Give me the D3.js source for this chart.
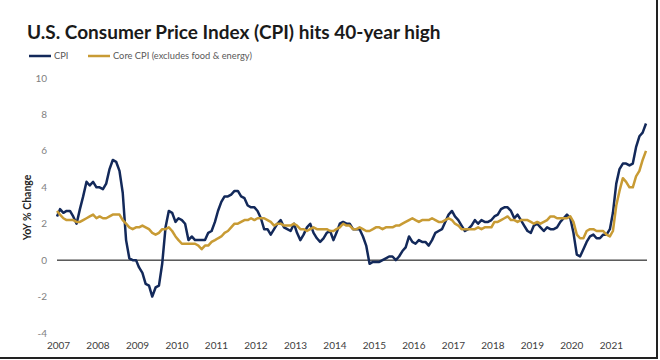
<!DOCTYPE html>
<html>
<head>
<meta charset="utf-8">
<script src="https://cdn.jsdelivr.net/npm/d3@7"></script>
<style>
  body { margin: 0; background: #fff; }
  svg { display: block; font-family: Lato, "Liberation Sans", sans-serif; }
</style>
</head>
<body>
<div id="chart"></div>
<script>
// monthly YoY % change, Feb 2007 .. Jan 2022
const startMonth = new Date(2007, 1, 1);
const cpi = [
  2.4, 2.8, 2.6, 2.7, 2.7, 2.4, 2.0, 2.8, 3.5, 4.3, 4.1,
  4.3, 4.0, 4.0, 3.9, 4.2, 5.0, 5.5, 5.4, 4.9, 3.7, 1.1, 0.1,
  0.0, 0.0, -0.4, -0.7, -1.3, -1.4, -2.0, -1.5, -1.4, -0.2, 1.8, 2.7,
  2.6, 2.1, 2.3, 2.2, 2.0, 1.1, 1.3, 1.1, 1.1, 1.1, 1.1, 1.5,
  1.6, 2.1, 2.7, 3.2, 3.5, 3.5, 3.6, 3.8, 3.8, 3.5, 3.4, 3.0,
  2.9, 2.9, 2.7, 2.3, 1.7, 1.7, 1.4, 1.7, 2.0, 2.2, 1.8, 1.7,
  1.6, 2.0, 1.5, 1.1, 1.4, 1.8, 2.0, 1.5, 1.2, 1.0, 1.2, 1.5,
  1.6, 1.1, 1.5, 2.0, 2.1, 2.0, 2.0, 1.7, 1.7, 1.7, 1.3, 0.8,
  -0.2, -0.1, -0.1, -0.1, 0.0, 0.1, 0.2, 0.2, 0.0, 0.2, 0.5, 0.7,
  1.3, 1.0, 0.9, 1.1, 1.0, 1.0, 0.8, 1.1, 1.5, 1.6, 1.7, 2.1,
  2.5, 2.7, 2.4, 2.2, 1.9, 1.6, 1.7, 1.9, 2.2, 2.0, 2.2, 2.1,
  2.1, 2.2, 2.4, 2.5, 2.8, 2.9, 2.9, 2.7, 2.3, 2.5, 2.2, 1.9,
  1.6, 1.5, 1.9, 2.0, 1.8, 1.6, 1.8, 1.7, 1.7, 1.8, 2.1, 2.3,
  2.5, 2.3, 1.5, 0.3, 0.2, 0.6, 1.0, 1.3, 1.4, 1.2, 1.2, 1.4,
  1.4, 1.7, 2.6, 4.2, 5.0, 5.3, 5.3, 5.2, 5.3, 6.2, 6.8, 7.0,
  7.5
];
const coreCpi = [
  2.7, 2.5, 2.3, 2.2, 2.2, 2.2, 2.1, 2.1, 2.2, 2.3, 2.4,
  2.5, 2.3, 2.4, 2.3, 2.3, 2.4, 2.5, 2.5, 2.5, 2.2, 2.0, 1.8,
  1.7, 1.8, 1.8, 1.9, 1.8, 1.7, 1.5, 1.4, 1.5, 1.7, 1.7, 1.8,
  1.6, 1.3, 1.1, 0.9, 0.9, 0.9, 0.9, 0.9, 0.8, 0.6, 0.8, 0.8,
  1.0, 1.1, 1.2, 1.3, 1.5, 1.6, 1.8, 2.0, 2.0, 2.1, 2.2, 2.2,
  2.3, 2.2, 2.3, 2.3, 2.3, 2.2, 2.1, 1.9, 2.0, 2.0, 1.9, 1.9,
  1.9, 2.0, 1.9, 1.7, 1.7, 1.6, 1.7, 1.8, 1.7, 1.7, 1.7, 1.7,
  1.6, 1.6, 1.7, 1.8, 2.0, 1.9, 1.9, 1.7, 1.7, 1.8, 1.7, 1.6,
  1.6, 1.7, 1.8, 1.8, 1.7, 1.8, 1.8, 1.8, 1.9, 1.9, 2.0, 2.1,
  2.2, 2.3, 2.2, 2.1, 2.2, 2.2, 2.2, 2.3, 2.2, 2.1, 2.1, 2.2,
  2.3, 2.2, 2.0, 1.9, 1.7, 1.7, 1.7, 1.7, 1.7, 1.8, 1.7, 1.8,
  1.8, 1.8, 2.1, 2.1, 2.2, 2.3, 2.4, 2.2, 2.2, 2.1, 2.2, 2.2,
  2.2, 2.1, 2.0, 2.1, 2.0, 2.1, 2.2, 2.4, 2.4, 2.3, 2.3, 2.3,
  2.3, 2.4, 2.1, 1.4, 1.2, 1.2, 1.6, 1.7, 1.7, 1.6, 1.6, 1.6,
  1.4, 1.3, 1.6, 3.0, 3.8, 4.5, 4.3, 4.0, 4.0, 4.6, 4.9, 5.5,
  6.0
];
const yearLabels = [2007, 2008, 2009, 2010, 2011, 2012, 2013, 2014, 2015,
  2016, 2017, 2018, 2019, 2020, 2021];
const yTicks = [-4, -2, 0, 2, 4, 6, 8, 10];
const seriesNames = ['CPI', 'Core CPI (excludes food & energy)'];
const colors = ['#13295a', '#c89b34'];

const width = 660, height = 360;
const plot = { left: 57, right: 646, top: 78, bottom: 333 };

const svg = d3.select('#chart').append('svg')
  .attr('width', width)
  .attr('height', height);

const months = cpi.map((d, i) => d3.timeMonth.offset(startMonth, i));

const x = d3.scaleTime()
  .domain([months[0], months[months.length - 1]])
  .range([plot.left, plot.right]);

const y = d3.scaleLinear()
  .domain([-4, 10])
  .range([plot.bottom, plot.top]);

// title
svg.append('text')
  .attr('x', 27)
  .attr('y', 39)
  .attr('font-size', 19)
  .attr('font-weight', 700)
  .attr('fill', '#1a1a1a')
  .text('U.S. Consumer Price Index (CPI) hits 40-year high');

// legend
const legendPos = [29, 88];
const legend = svg.selectAll('g.legend')
  .data(seriesNames)
  .enter().append('g')
  .attr('class', 'legend')
  .attr('transform', (d, i) => `translate(${legendPos[i]},56)`);

legend.append('line')
  .attr('x1', 0).attr('x2', 22)
  .attr('stroke', (d, i) => colors[i])
  .attr('stroke-width', 2.5);

legend.append('text')
  .attr('x', 25)
  .attr('dy', '0.35em')
  .attr('font-size', 9.3)
  .attr('fill', '#595959')
  .text(d => d);

// y tick labels
svg.append('g')
  .selectAll('text')
  .data(yTicks)
  .enter().append('text')
  .attr('x', 47)
  .attr('y', d => y(d))
  .attr('dy', '0.35em')
  .attr('text-anchor', 'end')
  .attr('font-size', 10)
  .attr('fill', '#7f7f7f')
  .text(d => d);

// y axis title
svg.append('text')
  .attr('transform', `translate(31,${(plot.top + plot.bottom) / 2 + 2}) rotate(-90)`)
  .attr('text-anchor', 'middle')
  .attr('font-size', 10.5)
  .attr('font-weight', 700)
  .attr('fill', '#262626')
  .text('YoY % Change');

// x labels
svg.append('g')
  .selectAll('text')
  .data(yearLabels)
  .enter().append('text')
  .attr('x', d => x(new Date(d, 1, 15)))
  .attr('y', 345)
  .attr('dy', '0.35em')
  .attr('text-anchor', 'middle')
  .attr('font-size', 10)
  .attr('fill', '#404040')
  .text(d => d);

// zero line
svg.append('line')
  .attr('x1', plot.left)
  .attr('x2', plot.right + 1)
  .attr('y1', y(0))
  .attr('y2', y(0))
  .attr('stroke', '#000')
  .attr('stroke-width', 1);

const line = d3.line()
  .x((d, i) => x(months[i]))
  .y(d => y(d));

svg.selectAll('path.series')
  .data([cpi, coreCpi])
  .enter().append('path')
  .attr('class', 'series')
  .attr('fill', 'none')
  .attr('stroke', (d, i) => colors[i])
  .attr('stroke-width', 2.5)
  .attr('stroke-linejoin', 'round')
  .attr('d', line);

// frame edges
svg.append('line')
  .attr('x1', 0).attr('x2', 658)
  .attr('y1', 358).attr('y2', 358)
  .attr('stroke', '#222').attr('stroke-width', 2);
svg.append('line')
  .attr('x1', 657).attr('x2', 657)
  .attr('y1', 0).attr('y2', 359)
  .attr('stroke', '#222').attr('stroke-width', 2);
</script>
</body>
</html>
